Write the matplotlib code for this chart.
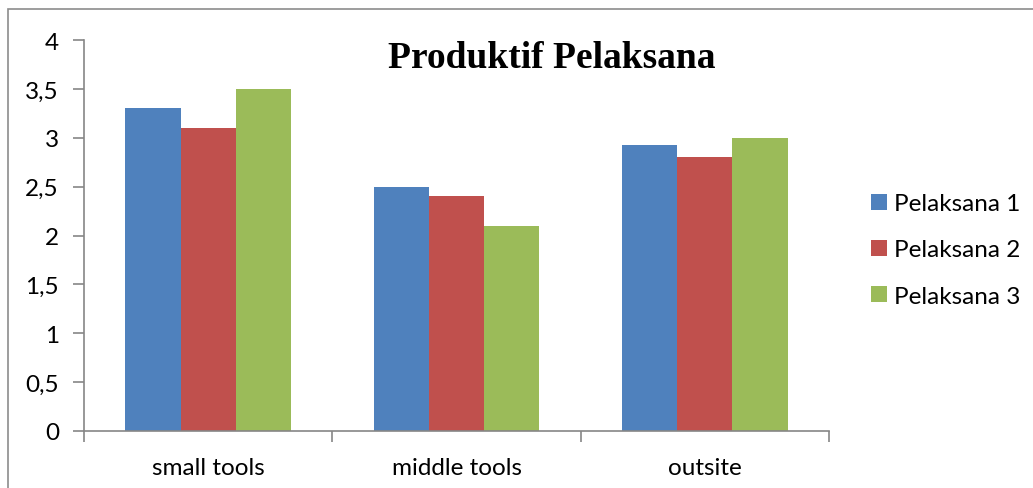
import numpy as np
import matplotlib.pyplot as plt
from matplotlib.patches import Rectangle, Patch

categories = ['small tools', 'middle tools', 'outsite']
series_names = ['Pelaksana 1', 'Pelaksana 2', 'Pelaksana 3']
pelaksana_1 = [3.3, 2.5, 2.93]
pelaksana_2 = [3.1, 2.4, 2.8]
pelaksana_3 = [3.5, 2.1, 3.0]
y_ticks = [0, 0.5, 1, 1.5, 2, 2.5, 3, 3.5, 4]
y_tick_labels = ['0', '0,5', '1', '1,5', '2', '2,5', '3', '3,5', '4']

colors = ['#4F81BD', '#C0504D', '#9BBB59']
axis_grey = '#868686'
label_font = 'Lato'

fig = plt.figure(figsize=(10.33, 4.89), dpi=100)
# outer chart frame
fig.patches.append(Rectangle((8 / 1033, -0.05), 1.2, 1.05 - 10 / 489,
                             transform=fig.transFigure, fill=False,
                             edgecolor='#8c8c8c', linewidth=1.2))

ax = fig.add_axes([84 / 1033, 57 / 489, 745 / 1033, 391 / 489])

x = np.arange(len(categories))
w = 0.222
for i, vals in enumerate([pelaksana_1, pelaksana_2, pelaksana_3]):
    ax.bar(x + (i - 1) * w, vals, width=w, color=colors[i], label=series_names[i])

ax.set_xlim(-0.5, len(categories) - 0.5)
ax.set_ylim(0, 4)
ax.set_yticks(y_ticks)
ax.set_yticklabels(y_tick_labels, fontfamily=label_font, fontsize=17.5)
ax.set_xticks(x)
ax.set_xticklabels(categories, fontfamily=label_font, fontsize=17.5)
ax.set_xticks(np.arange(len(categories) + 1) - 0.5, minor=True)
ax.tick_params(axis='x', which='major', length=0, pad=19)
ax.tick_params(axis='x', which='minor', length=8, color=axis_grey, width=1.2)
ax.tick_params(axis='y', length=8, color=axis_grey, width=1.2, pad=10)

for side in ['top', 'right']:
    ax.spines[side].set_visible(False)
for side in ['left', 'bottom']:
    ax.spines[side].set_color(axis_grey)
    ax.spines[side].set_linewidth(1.2)

fig.text(552 / 1033, 1 - 58 / 489, 'Produktif Pelaksana', ha='center', va='center',
         fontfamily='Liberation Serif', fontweight='bold', fontsize=27)

handles = [Patch(facecolor=c) for c in colors]
fig.legend(handles, series_names, loc='center left', bbox_to_anchor=(849 / 1033, 1 - 251 / 489),
           frameon=False, prop={'family': label_font, 'size': 17.5},
           handlelength=0.66, handleheight=0.66, handletextpad=0.3, labelspacing=1.04)

fig.savefig('out.png', dpi=100)
